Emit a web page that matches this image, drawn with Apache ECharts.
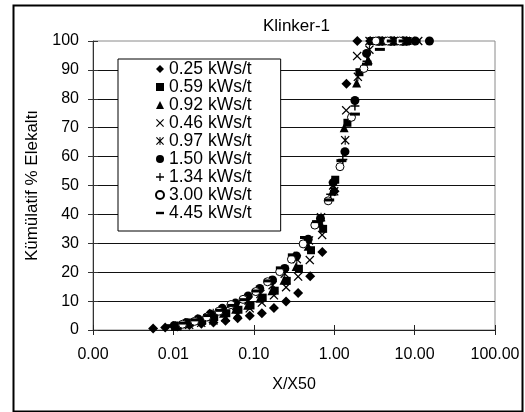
<!DOCTYPE html>
<html>
<head>
    <meta charset="utf-8"/>
    <script src="https://cdn.jsdelivr.net/npm/echarts@6.0.0/dist/echarts.min.js"></script>
    <style>
        body { margin: 0; background: #fff; }
    </style>
</head>
<body>
<div id="main" style="width: 525px;height:412px;"></div>
<script type="text/javascript">
    // series names (legend order)
    var names = ['0.25 kWs/t', '0.59 kWs/t', '0.92 kWs/t', '0.46 kWs/t', '0.97 kWs/t',
        '1.50 kWs/t', '1.34 kWs/t', '3.00 kWs/t', '4.45 kWs/t'];

    // X/X50 and cumulative % passing
    var x025 = [0.0056, 0.0079, 0.0112, 0.0158, 0.0223, 0.0315, 0.0445, 0.063, 0.089, 0.126, 0.178, 0.252, 0.356, 0.503, 0.712, 1.01, 1.42, 1.94, 2.8, 4.0, 5.6, 8.0];
    var y025 = [0.5, 0.9, 1.2, 1.7, 2.2, 2.6, 3.2, 4.1, 4.9, 5.8, 7.6, 9.9, 12.8, 18.6, 27.0, 48.0, 85.2, 100, 100, 100, 100, 100];

    var x059 = [0.0114, 0.0161, 0.0228, 0.0322, 0.0455, 0.0644, 0.091, 0.129, 0.182, 0.257, 0.364, 0.515, 0.728, 1.03, 1.46, 2.06, 2.91, 4.12, 5.8, 8.2];
    var y059 = [1.5, 2.6, 3.2, 4.5, 5.8, 7.0, 8.5, 11.2, 13.6, 17.0, 21.2, 27.6, 35.0, 52.0, 71.7, 89.2, 100, 100, 100, 100];

    var x092 = [0.0105, 0.0148, 0.021, 0.0297, 0.042, 0.0594, 0.084, 0.119, 0.168, 0.2375, 0.336, 0.475, 0.672, 0.95, 1.33, 1.9, 2.65, 3.75, 5.3, 7.5];
    var y092 = [1.3, 2.2, 3.3, 4.6, 5.8, 7.2, 8.6, 11.0, 13.6, 17.2, 22.0, 29.0, 37.0, 48.0, 70.0, 85.5, 93.5, 100, 100, 100];

    var x046 = [0.0111, 0.0157, 0.0222, 0.0315, 0.0445, 0.063, 0.089, 0.126, 0.178, 0.252, 0.356, 0.497, 0.708, 1.0, 1.41, 1.93, 2.75, 3.9, 5.5, 7.8, 11.1];
    var y046 = [1.2, 1.8, 2.5, 3.3, 4.3, 5.7, 7.5, 9.5, 12.0, 14.8, 18.5, 24.2, 32.9, 48.0, 76.0, 94.8, 100, 100, 100, 100, 100];

    var x097 = [0.0107, 0.0152, 0.0214, 0.0313, 0.0429, 0.0606, 0.0857, 0.121, 0.1715, 0.2425, 0.343, 0.485, 0.686, 0.97, 1.37, 1.97, 2.74, 3.88, 5.5, 7.8];
    var y097 = [1.4, 2.3, 3.5, 5.8, 6.8, 8.3, 10.2, 12.5, 15.5, 19.5, 24.5, 31.0, 39.0, 50.0, 65.7, 87.6, 97.0, 100, 100, 100];

    var x150 = [0.0102, 0.0144, 0.0203, 0.0287, 0.0406, 0.059, 0.085, 0.1185, 0.171, 0.243, 0.339, 0.475, 0.675, 0.97, 1.36, 1.81, 2.53, 3.6, 5.1, 7.2, 10.2, 15.3];
    var y150 = [1.5, 2.5, 3.8, 5.5, 7.5, 9.3, 11.8, 14.4, 17.3, 21.3, 25.6, 31.4, 38.6, 51.0, 61.7, 79.4, 95.7, 100, 100, 100, 100, 100];

    var x134 = [0.01, 0.0141, 0.02, 0.0283, 0.04, 0.0566, 0.08, 0.113, 0.16, 0.226, 0.32, 0.453, 0.64, 0.905, 1.28, 1.81, 2.56, 3.62, 5.1, 7.2];
    var y134 = [1.5, 2.5, 3.8, 5.4, 7.0, 8.6, 10.8, 13.5, 17.0, 21.0, 25.5, 30.5, 37.0, 47.0, 59.0, 77.5, 93.0, 100, 100, 100];

    var x300 = [0.013, 0.0184, 0.026, 0.0368, 0.052, 0.0735, 0.106, 0.148, 0.21, 0.294, 0.411, 0.574, 0.842, 1.18, 1.64, 2.34, 3.3, 4.6, 6.5];
    var y300 = [2.0, 3.0, 4.5, 6.5, 8.8, 10.6, 13.3, 16.7, 20.2, 24.5, 29.8, 36.3, 44.7, 56.5, 73.6, 90.5, 100, 100, 100];

    var x445 = [0.0096, 0.0135, 0.0191, 0.0271, 0.0383, 0.0541, 0.0766, 0.108, 0.153, 0.217, 0.306, 0.433, 0.612, 0.866, 1.23, 1.81, 2.56, 3.7, 5.2, 7.3, 10.3];
    var y445 = [1.5, 2.4, 3.5, 5.0, 6.8, 8.5, 10.5, 13.5, 17.0, 21.5, 26.0, 32.0, 37.5, 45.0, 58.6, 74.7, 92.0, 97.1, 100, 100, 100];

    var xs = [x025, x059, x092, x046, x097, x150, x134, x300, x445];
    var ys = [y025, y059, y092, y046, y097, y150, y134, y300, y445];

    // marker shapes
    var crossPath = 'path://M0,1L1,0L5,4L9,0L10,1L6,5L10,9L9,10L5,6L1,10L0,9L4,5Z';
    var starPath = 'path://M0,1L1,0L5,4L9,0L10,1L6,5L10,9L9,10L5,6L1,10L0,9L4,5Z M4.4,0H5.6V10H4.4Z';
    var plusPath = 'path://M4.2,0H5.8V4.2H10V5.8H5.8V10H4.2V5.8H0V4.2H4.2Z';
    var dashPath = 'path://M0,0H10V3H0Z';
    var symbols = ['diamond', 'rect', 'triangle', crossPath, starPath, 'circle', plusPath, 'circle', dashPath];
    var sizes = [10, 8, 9, 9, 9, 9, 9, 8, [10, 3]];

    var font = "'Liberation Sans', Arial, sans-serif";

    function pairs(xa, ya) {
        var out = [];
        for (var i = 0; i < xa.length; i++) {
            out.push([xa[i], ya[i]]);
        }
        return out;
    }

    var series = [];
    var legendData = [];
    for (var i = 0; i < names.length; i++) {
        var open = (i === 7);
        series.push({
            name: names[i],
            type: 'scatter',
            symbol: symbols[i],
            symbolSize: sizes[i],
            data: pairs(xs[i], ys[i]),
            itemStyle: open ? {color: '#fff', borderColor: '#000', borderWidth: 1, opacity: 1}
                : {color: '#000', opacity: 1},
            emphasis: {disabled: true}
        });
        legendData.push({name: names[i], icon: symbols[i]});
    }

    var myChart = echarts.init(document.getElementById('main'));

    var option = {
        backgroundColor: '#fff',
        animation: false,
        title: {
            text: 'Klinker-1',
            left: 258,
            top: 13,
            textStyle: {fontFamily: font, fontSize: 17, fontWeight: 'normal', color: '#000'}
        },
        legend: {
            orient: 'vertical',
            left: 118,
            top: 59,
            padding: [1, 29, 9, 37],
            itemGap: 0,
            itemWidth: 8,
            itemHeight: 8,
            backgroundColor: '#fff',
            borderColor: '#000',
            borderWidth: 1,
            textStyle: {fontFamily: font, fontSize: 17.5, color: '#000', lineHeight: 17.7},
            data: legendData
        },
        grid: {
            left: 93,
            right: 30,
            top: 41,
            bottom: 82,
            show: true,
            borderColor: '#8a8a8a',
            borderWidth: 1
        },
        xAxis: [{
            type: 'log',
            logBase: 10,
            min: 0.001,
            max: 100,
            name: 'X/X50',
            nameLocation: 'middle',
            nameGap: 47,
            nameTextStyle: {fontFamily: font, fontSize: 16, color: '#000'},
            axisLine: {lineStyle: {color: '#222'}},
            axisTick: {length: 5, lineStyle: {color: '#222'}},
            axisLabel: {
                margin: 17,
                fontFamily: font,
                fontSize: 16,
                color: '#000',
                formatter: function (v) { return v.toFixed(2); }
            },
            splitLine: {show: false}
        }, {
            type: 'log',
            logBase: 10,
            min: 0.001,
            max: 100,
            position: 'bottom',
            axisLine: {show: false},
            axisTick: {inside: true, length: 5, lineStyle: {color: '#222'}},
            axisLabel: {show: false},
            splitLine: {show: false}
        }],
        yAxis: [{
            type: 'value',
            min: 0,
            max: 100,
            interval: 10,
            name: 'Kümülatif % Elekaltı',
            nameLocation: 'middle',
            nameGap: 52,
            nameTextStyle: {fontFamily: font, fontSize: 17, color: '#000'},
            axisLine: {show: true, lineStyle: {color: '#333'}},
            axisTick: {show: true, length: 5, lineStyle: {color: '#333'}},
            axisLabel: {margin: 14, fontFamily: font, fontSize: 16, color: '#000'},
            splitLine: {show: true, showMinLine: false, showMaxLine: false, lineStyle: {color: '#111', width: 1}}
        }, {
            type: 'value',
            min: 0,
            max: 100,
            interval: 10,
            position: 'left',
            axisLine: {show: false},
            axisTick: {show: true, inside: true, length: 5, lineStyle: {color: '#333'}},
            axisLabel: {show: false},
            splitLine: {show: false}
        }],
        graphic: [{
            type: 'rect',
            left: 11,
            top: 3,
            shape: {width: 509, height: 406},
            style: {fill: 'none', stroke: '#000', lineWidth: 2},
            silent: true
        }],
        series: series
    };

    myChart.setOption(option);
</script>
</body>
</html>
